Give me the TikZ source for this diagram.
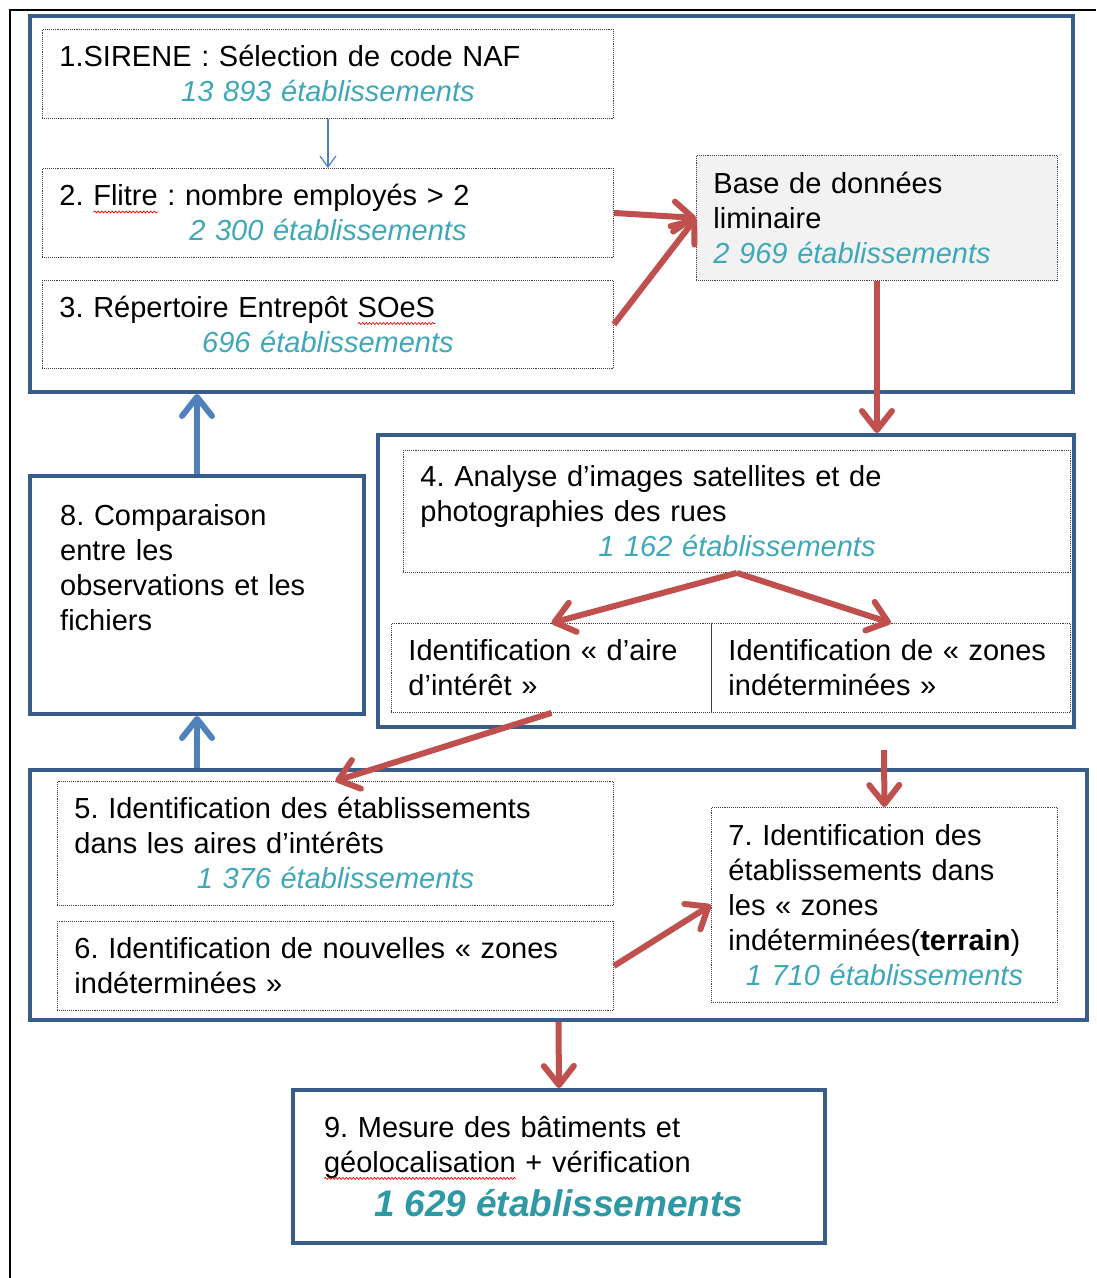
\documentclass[tikz,border=0pt]{standalone}
\usepackage{fontspec}
\setmainfont{Liberation Sans}
\usepackage{xcolor}
\usetikzlibrary{positioning,arrows.meta,decorations.pathmorphing}

\definecolor{grpblue}{RGB}{56,93,138}
\definecolor{arrblue}{RGB}{79,129,189}
\definecolor{arrred}{RGB}{192,80,77}
\definecolor{cntteal}{RGB}{62,168,184}
\definecolor{bigteal}{RGB}{46,152,164}

\newsavebox\spellbox
\newcommand\cnt[1]{\makebox[\hsize]{\color{cntteal}\itshape #1}}
\newcommand\spell[1]{\leavevmode\sbox\spellbox{#1}\rlap{\tikz[baseline=0pt]\draw[red,solid,line width=0.7pt,decorate,decoration={snake,amplitude=1pt,segment length=3.5pt}] (0pt,-6pt)--(\wd\spellbox,-6pt);}#1}

\begin{document}
\frenchspacing
\begin{tikzpicture}[x=1pt,y=-1pt,font=\fontsize{29}{35}\selectfont,
 grp/.style={draw=grpblue,line width=4pt,anchor=north west,inner sep=0pt},
 dbox/.style={draw=black!75,densely dotted,line width=0.9pt,anchor=north west,align=left,inner xsep=17pt,inner ysep=0pt},
 redarr/.style={draw=arrred,line width=6pt,-{Straight Barb[length=19pt,width=30pt,round]}},
 bluearr/.style={draw=arrblue,line width=6pt,-{Straight Barb[length=19pt,width=30pt,round]}},
 thinarr/.style={draw=arrblue,line width=1.2pt,-{Straight Barb[length=11pt,width=16pt]}}]
\useasboundingbox (0,0) rectangle (1096,1278);
\draw[line width=1.5pt] (10,1278) -- (10,10) -- (1096,10);
% blue frames
\node[grp,minimum width=1043pt,minimum height=376pt] (g1) at (28,14) {};
\node[grp,minimum width=696pt,minimum height=292pt] (g4) at (376,433) {};
\node[grp,minimum width=1057pt,minimum height=250pt] (g5) at (28,768) {};
\node[grp,minimum width=334pt,minimum height=238pt] (g8) at (28,474) {};
\node[anchor=north west,align=left,text width=270pt,inner sep=0pt] (t8) at (60,504) {8. Comparaison\\entre les\\observations et les\\fichiers};
\node[grp,align=left,text width=470pt,inner xsep=31pt,minimum height=153pt] (b9) at (291,1088)
 {9. Mesure des bâtiments et\\\spell{géolocalisation} + vérification\\[9pt]\makebox[\hsize]{\fontsize{37}{44}\selectfont\color{bigteal}\bfseries\itshape 1 629 établissements}};
% dotted boxes
\node[dbox,text width=537pt,minimum height=89pt] (b1) at (42,29) {1.SIRENE : Sélection de code NAF\\\cnt{13 893 établissements}};
\node[dbox,text width=537pt,minimum height=89pt] (b2) at (42,168) {2. \spell{Flitre} : nombre employés > 2\\\cnt{2 300 établissements}};
\node[dbox,text width=537pt,minimum height=88pt] (b3) at (42,280) {3. Répertoire Entrepôt \spell{SOeS}\\\cnt{696 établissements}};
\node[dbox,fill=black!5,text width=327pt,minimum height=125pt] (base) at (696,155) {Base de données\\liminaire\\{\color{cntteal}\itshape 2 969 établissements}};
\node[dbox,text width=633pt,minimum height=122pt] (b4) at (403,450) {4. Analyse d’images satellites et de\\photographies des rues\\\cnt{1 162 établissements}};
\node[dbox,text width=286pt,minimum height=89pt] (ia) at (391,623) {Identification « d’aire\\d’intérêt »};
\node[dbox,text width=325pt,minimum height=89pt] (iz) at (711,623) {Identification de « zones\\indéterminées »};
\node[dbox,text width=522pt,minimum height=124pt] (b5) at (57,781) {5. Identification des établissements\\dans les aires d’intérêts\\\cnt{1 376 établissements}};
\node[dbox,text width=522pt,minimum height=89pt] (b6) at (57,921) {6. Identification de nouvelles « zones\\indéterminées »};
\node[dbox,text width=312pt,minimum height=195pt] (b7) at (711,807) {7. Identification des\\établissements dans\\les « zones\\indéterminées(\textbf{terrain})\\\cnt{1 710 établissements}};
\coordinate (z7) at (884,750);
% arrows
\draw[thinarr] (b1) -- (b2);
\draw[redarr] (b2.east) -- (base.west);
\draw[redarr] (b3.east) -- (base.west);
\draw[redarr] (base.south) -- (base.south |- g4.north);
\draw[redarr] (b4.south) -- (ia.north);
\draw[redarr] (b4.south) -- (iz.north);
\draw[redarr] (ia.south) -- (b5.north);
\draw[redarr] (z7) -- (b7.north);
\draw[redarr] (b6.east) -- (b7.west);
\draw[redarr] (g5.south) -- (b9.north);
\draw[bluearr] (g8.north) -- (g8.north |- g1.south);
\draw[bluearr] (g8.south |- g5.north) -- (g8.south);
\end{tikzpicture}
\end{document}
